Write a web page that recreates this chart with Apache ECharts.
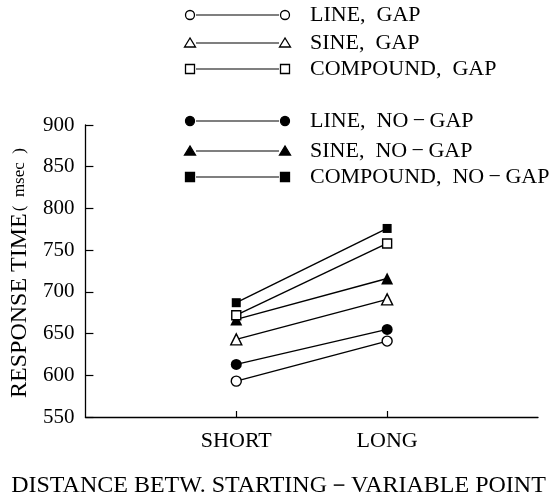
<!DOCTYPE html>
<html>
<head>
<meta charset="utf-8">
<script src="https://cdn.jsdelivr.net/npm/echarts@6/dist/echarts.min.js"></script>
<style>
html,body{margin:0;padding:0;background:#fff;}
#chart{width:557px;height:497px;}
</style>
</head>
<body>
<div id="chart"></div>
<script>
// ---- data ----
var categories = ['', 'SHORT', 'LONG', ''];
var seriesNames = ['LINE,  GAP', 'SINE,  GAP', 'COMPOUND,  GAP', 'LINE,  NO\u2009−\u2009GAP', 'SINE,  NO\u2009−\u2009GAP', 'COMPOUND,  NO\u2009−\u2009GAP'];
var lineGap = [593, 641];
var sineGap = [643, 691];
var compoundGap = [672, 758];
var lineNoGap = [613, 655];
var sineNoGap = [667, 716];
var compoundNoGap = [687, 776];
var yTicks = [550, 600, 650, 700, 750, 800, 850, 900];

var seriesValues = [lineGap, sineGap, compoundGap, lineNoGap, sineNoGap, compoundNoGap];
var symbols = ['circle', 'triangle', 'rect', 'circle', 'triangle', 'rect'];
var filled = [false, false, false, true, true, true];
var symSizes = [10, 11, 9, 11, 12, 9];

var FONT = '"Liberation Serif", "DejaVu Serif", serif';

function pad(vals) { return [null].concat(vals).concat([null]); }

var series = seriesValues.map(function (vals, i) {
  return {
    name: seriesNames[i],
    type: 'line',
    data: pad(vals),
    symbol: symbols[i],
    symbolSize: symSizes[i],
    showAllSymbol: true,
    connectNulls: false,
    z: filled[i] ? 2 : 3,
    lineStyle: { color: '#000', width: 1.4 },
    itemStyle: { color: filled[i] ? '#000' : '#fff', borderColor: '#000', borderWidth: filled[i] ? 0 : 1.4, opacity: 1 },
    emphasis: { disabled: true },
    animation: false
  };
});

// legend drawn as graphic (marker - line - marker + label)
var legendRows = [15, 43, 69, 121, 151, 177];
var graphics = [];
function markerGraphic(type, isFilled, cx, cy) {
  var style = { fill: isFilled ? '#000' : '#fff', stroke: '#000', lineWidth: 1.3 };
  if (type === 'circle') return { type: 'circle', shape: { cx: cx, cy: cy, r: 4.5 }, style: style };
  if (type === 'rect') return { type: 'rect', shape: { x: cx - 4.5, y: cy - 4.5, width: 9, height: 9 }, style: style };
  return { type: 'polygon', shape: { points: [[cx, cy - 5], [cx - 5.5, cy + 4], [cx + 5.5, cy + 4]] }, style: style };
}
seriesNames.forEach(function (nm, i) {
  var y = legendRows[i];
  graphics.push(markerGraphic(symbols[i], filled[i], 190, y));
  graphics.push(markerGraphic(symbols[i], filled[i], 285, y));
  graphics.push({ type: 'line', shape: { x1: 196, y1: y, x2: 279, y2: y }, style: { stroke: '#000', lineWidth: 1.2 } });
  graphics.push({ type: 'text', x: 310, y: y, style: { text: nm, font: '22px ' + FONT, fill: '#000', verticalAlign: 'middle' } });
});

var chart = echarts.init(document.getElementById('chart'), null, { renderer: 'canvas' });
chart.setOption({
  backgroundColor: '#fff',
  animation: false,
  title: {
    text: 'DISTANCE BETW. STARTING－VARIABLE POINT',
    left: 'center',
    top: 469,
    textStyle: { fontFamily: FONT, fontSize: 24, fontWeight: 'normal', color: '#000' }
  },
  grid: { left: 84, right: 19, top: 125, height: 292 },
  xAxis: {
    type: 'category',
    data: categories,
    boundaryGap: false,
    axisLine: { lineStyle: { color: '#000', width: 1.3 } },
    axisTick: { inside: true, length: 6, lineStyle: { color: '#000', width: 1.2 },
      interval: function (idx, val) { return val !== ''; } },
    axisLabel: { color: '#000', fontFamily: FONT, fontSize: 22, margin: 13,
      interval: function (idx, val) { return val !== ''; } },
    splitLine: { show: false }
  },
  yAxis: {
    type: 'value',
    min: yTicks[0],
    max: yTicks[yTicks.length - 1],
    interval: yTicks[1] - yTicks[0],
    axisLine: { show: true, lineStyle: { color: '#000', width: 1.3 } },
    axisTick: { show: true, inside: true, length: 8, lineStyle: { color: '#000', width: 1.2 } },
    axisLabel: { color: '#000', fontFamily: FONT, fontSize: 21, margin: 11 },
    splitLine: { show: false },
    name: '{a|RESPONSE TIME}{b|(  msec  )}',
    nameLocation: 'middle',
    nameGap: 50,
    nameRotate: 90,
    nameTextStyle: {
      padding: [0, 4, 0, 0],
      rich: {
        a: { fontFamily: FONT, fontSize: 24, color: '#000' },
        b: { fontFamily: FONT, fontSize: 17, color: '#000', padding: [0, 0, 0, 2] }
      }
    }
  },
  series: series,
  graphic: graphics
});
</script>
</body>
</html>
